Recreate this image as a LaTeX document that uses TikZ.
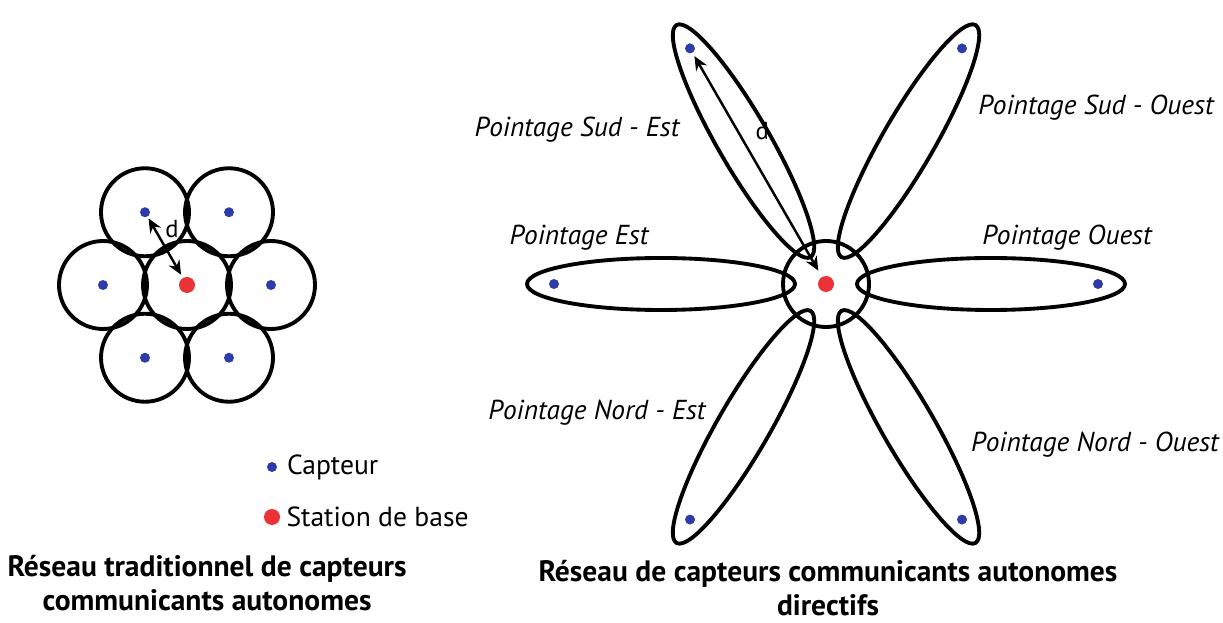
\documentclass[tikz,border=0pt]{standalone}
\usepackage{fontspec}
\setmainfont{PT Sans}
\usepackage{tikz}
\usetikzlibrary{positioning,calc,arrows.meta}

\definecolor{capteurblue}{RGB}{45,60,170}
\definecolor{stationred}{RGB}{235,50,55}

\tikzset{
  capteur/.style={circle, fill=capteurblue, inner sep=0pt, minimum size=10\unitpx},
  station/.style={circle, fill=stationred, inner sep=0pt, minimum size=16\unitpx},
  zone/.style={line width=2.2pt},
  lobe/.style={line width=2.2pt},
  portee/.style={line width=1.4pt, {Stealth[length=8pt,width=7pt]}-{Stealth[length=8pt,width=7pt]}},
  pointage/.style={font=\fontsize{15.6}{18}\selectfont\itshape},
  titre/.style={font=\fontsize{16.8}{19}\selectfont\bfseries, align=center, inner sep=0pt},
  legende/.style={font=\fontsize{15.7}{18}\selectfont, right},
  lettre/.style={font=\fontsize{14}{16}\selectfont},
}
\newlength{\unitpx}
\setlength{\unitpx}{0.02cm}

\begin{document}
\begin{tikzpicture}[x=0.02cm, y=0.02cm]
  \useasboundingbox (0,0) rectangle (1223,622);

  % Reseau traditionnel (cellules hexagonales)
  \node[station] (bsA) at (187,337) {};
  \draw[zone] (bsA) circle (44);
  \foreach \ang in {0,60,...,300} {
    \node[capteur] (cA\ang) at ($(bsA)+(\ang:84)$) {};
    \draw[zone] (cA\ang) circle (44);
  }
  \draw[portee, shorten <=1pt, shorten >=2pt] (cA120) -- (bsA)
    node[pos=0.2, right=2pt, lettre] {d};

  % Legende
  \node[capteur] (legC) at (272,155) {};
  \node[legende] at ([xshift=2pt]legC.east) {Capteur};
  \node[station] (legS) at (272,105) {};
  \node[legende] at (legS.east) {Station de base};

  \node[titre] (titreA) at (207,39) {R\'eseau traditionnel de capteurs\\communicants autonomes};

  % Reseau directif (lobes)
  \node[station] (bsB) at (826,338) {};
  \draw[zone] (bsB) circle (43);
  \foreach \ang in {0,60,...,300} {
    \begin{scope}[shift={(bsB)}, rotate=\ang]
      \draw[lobe] (165,0) ellipse [x radius=134, y radius=26];
      \node[capteur] (cB\ang) at (272,0) {};
    \end{scope}
  }
  \draw[portee, shorten <=2pt, shorten >=4pt] (cB120) -- (bsB)
    node[pos=0.35, right=6pt, lettre] {d};

  \node[pointage] at (577,492) {Pointage Sud - Est};
  \node[pointage] at (579,384) {Pointage Est};
  \node[pointage] at (1096,514) {Pointage Sud - Ouest};
  \node[pointage] at (1067,384) {Pointage Ouest};
  \node[pointage] at (597,209) {Pointage Nord - Est};
  \node[pointage] at (1095,177) {Pointage Nord - Ouest};

  \node[titre] (titreB) at (828,34) {R\'eseau de capteurs communicants autonomes\\directifs};
\end{tikzpicture}
\end{document}
